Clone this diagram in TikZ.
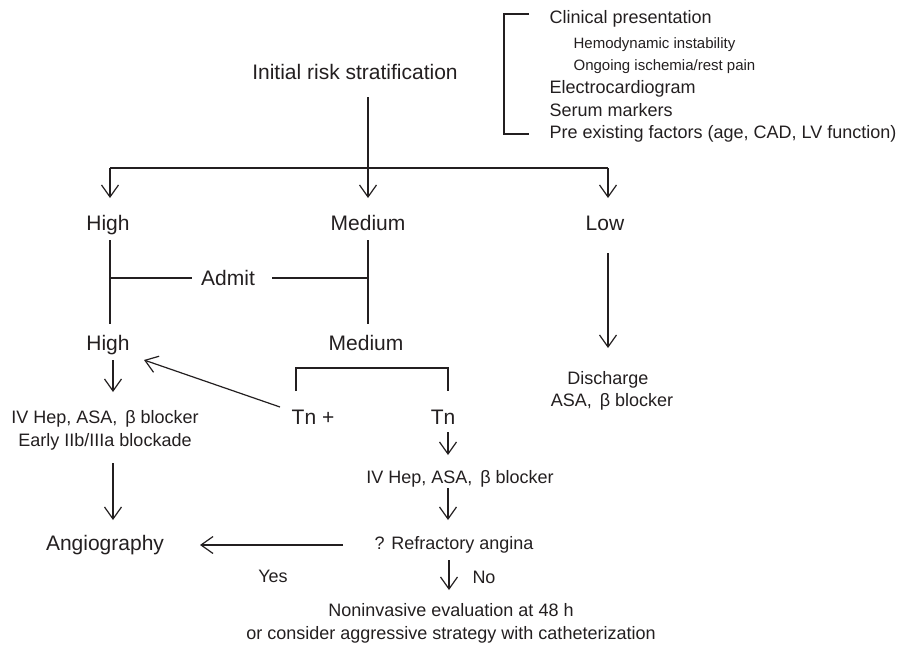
\documentclass[tikz,border=0pt]{standalone}
\usepackage{fontspec}
\setmainfont{Liberation Sans}
\usetikzlibrary{arrows.meta}
\definecolor{ink}{HTML}{231F20}
\begin{document}
\begin{tikzpicture}[x=1pt,y=-1pt,line width=1.2pt,draw=ink,text=ink,
  big/.style={inner sep=0pt,font=\fontsize{21}{25}\selectfont,text height=15pt,text depth=0pt},
  mid/.style={inner sep=0pt,font=\fontsize{18}{22}\selectfont,text height=13pt,text depth=0pt},
  small/.style={inner sep=0pt,font=\fontsize{15}{18}\selectfont,text height=10.8pt,text depth=0pt},
  arr/.style={-{Straight Barb[length=12pt,width=17pt]}}]
\path[use as bounding box] (0,0) rectangle (913,646);

% top
\node[big] (init) at (355,72) {Initial risk stratification};
\node[mid,anchor=west] (cp) at (549,17) {Clinical presentation};
\node[small,anchor=west] (hemo) at (573,43) {Hemodynamic instability};
\node[small,anchor=west] (isch) at (573,65) {Ongoing ischemia/rest pain};
\node[mid,anchor=west] (ecg) at (549,87) {Electrocardiogram};
\node[mid,anchor=west] (serum) at (549,110) {Serum markers};
\node[mid,anchor=west] (pre) at (549,132) {Pre existing factors (age, CAD, LV function)};
\coordinate (bt) at (529,14);
\coordinate (bb) at (529,134);
\draw (bt) -- (504,14) -- (504,134) -- (bb);

% first split
\coordinate (s0) at (368,97);
\coordinate (split) at (368,168);
\coordinate (hl) at (110,168);
\coordinate (hr) at (608,168);
\draw (s0) -- (split);
\draw (hl) -- (hr);
\node[big] (high1) at (108,223) {High};
\node[big] (med1) at (368,223) {Medium};
\node[big] (low) at (605,223) {Low};
\coordinate (th) at (110,198);
\coordinate (tm) at (368,198);
\coordinate (tl) at (608,198);
\draw[arr] (hl) -- (th);
\draw[arr] (split) -- (tm);
\draw[arr] (hr) -- (tl);

% admit
\coordinate (h1a) at (110,240);
\coordinate (h1b) at (110,324);
\coordinate (m1a) at (368,240);
\coordinate (m1b) at (368,324);
\draw (h1a) -- (h1b);
\draw (m1a) -- (m1b);
\node[big] (admit) at (228,278) {Admit};
\coordinate (adl) at (110,278);
\coordinate (adr) at (368,278);
\draw (adl) -- ([xshift=-9pt]admit.west);
\draw ([xshift=17pt]admit.east) -- (adr);

\node[big] (high2) at (108,343) {High};
\node[big] (med2) at (366,343) {Medium};

% high branch
\coordinate (ha1) at (113,360);
\coordinate (ha2) at (113,392);
\draw[arr] (ha1) -- (ha2);
\node[mid] (ivh1) at (105,417) {IV Hep, ASA, \,β blocker};
\node[mid] (early) at (105,440) {Early IIb/IIIa blockade};
\coordinate (hb1) at (113,463);
\coordinate (hb2) at (113,520);
\draw[arr] (hb1) -- (hb2);
\node[big] (angio) at (105,543) {Angiography};

% medium branch
\coordinate (tb1) at (296,391);
\coordinate (tb2) at (448,391);
\draw (tb1) -- (296,368) -- (448,368) -- (tb2);
\node[big] (tnp) at (313,417) {Tn +};
\node[big] (tn) at (443,417) {Tn};
\coordinate (d1) at (280,407);
\coordinate (d2) at (144,360);
\draw[arr] (d1) -- (d2);
\coordinate (ta1) at (448,432);
\coordinate (ta2) at (448,455);
\draw[arr] (ta1) -- (ta2);
\node[mid] (ivh2) at (460,477) {IV Hep, ASA, \,β blocker};
\coordinate (tc1) at (448,488);
\coordinate (tc2) at (448,520);
\draw[arr] (tc1) -- (tc2);
\node[mid] (refr) at (454,543) {? Refractory angina};
\coordinate (ya1) at (343,545);
\coordinate (ya2) at (200,545);
\draw[arr] (ya1) -- (ya2);
\node[mid] (yes) at (273,576) {Yes};
\coordinate (na1) at (449,560);
\coordinate (na2) at (449,590);
\draw[arr] (na1) -- (na2);
\node[mid] (no) at (484,577) {No};
\node[mid] (nonin) at (451,610) {Noninvasive evaluation at 48 h};
\node[mid] (cons) at (451,633) {or consider aggressive strategy with catheterization};

% low branch
\coordinate (la1) at (608,253);
\coordinate (la2) at (608,348);
\draw[arr] (la1) -- (la2);
\node[mid] (disch) at (608,378) {Discharge};
\node[mid] (asa) at (612,400) {ASA, \,β blocker};
\end{tikzpicture}
\end{document}
